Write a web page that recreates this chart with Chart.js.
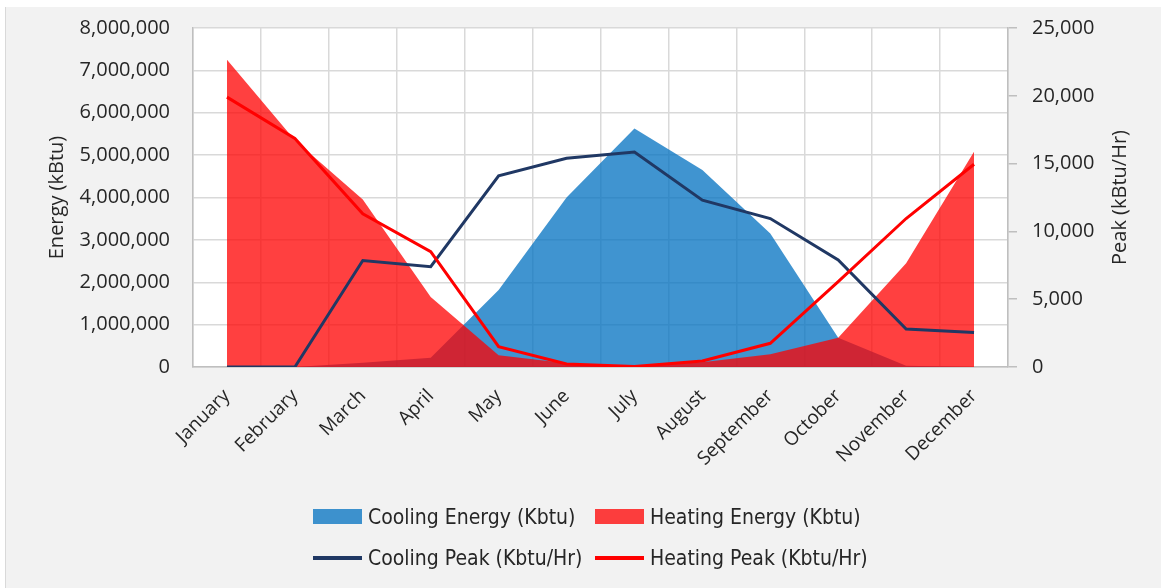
<!DOCTYPE html>
<html>
<head>
<meta charset="utf-8">
<script src="https://cdn.jsdelivr.net/npm/chart.js@4.4.0/dist/chart.umd.min.js"></script>
<style>
    html, body { margin: 0; padding: 0; background: #ffffff; }
    #wrap {
        position: absolute; left: 5px; top: 7px; width: 1156px; height: 581px;
        background: #f2f2f2; border-left: 1px solid #d9d9d9;
    }
    #chart { position: absolute; left: -6px; top: -7px; }
    .leg { position: absolute; font-family: "Liberation Sans Narrow", "DejaVu Sans Condensed", sans-serif;
        font-size: 21px; color: #262626; white-space: nowrap; line-height: 24px; }
    .sw { position: absolute; }
</style>
</head>
<body>
<div id="wrap">
    <canvas id="chart" width="1161" height="588"></canvas>
</div>
<div id="legend"></div>
<script>
const months = ["January", "February", "March", "April", "May", "June", "July",
    "August", "September", "October", "November", "December"];

// energy (kBtu), left axis
const coolingEnergy = [0, 0, 100000, 220000, 1820000, 4000000, 5630000, 4650000, 3150000, 690000, 30000, 0];
const heatingEnergy = [7250000, 5350000, 3950000, 1650000, 280000, 90000, 20000, 110000, 300000, 690000, 2450000, 5080000];

// peak (kBtu/Hr), right axis
const coolingPeak = [0, 0, 7850, 7400, 14100, 15400, 15850, 12300, 10950, 7900, 2800, 2550];
const heatingPeak = [19900, 16850, 11300, 8500, 1500, 220, 30, 450, 1750, 6300, 10950, 14950];

const energyTicks = { min: 0, max: 8000000, step: 1000000 };
const peakTicks = { min: 0, max: 25000, step: 5000 };

const blueFill = "rgba(0,112,192,0.75)";
const redFill = "rgba(255,0,0,0.75)";
const navy = "#203864";
const red = "#ff0000";
const textColor = "#262626";
const axisFont = { family: "'Open Sans', sans-serif", size: 20 };

// white plot area on the grey background
const plotBg = {
    id: "plotBg",
    beforeDraw(chart) {
        const a = chart.chartArea;
        const ctx = chart.ctx;
        ctx.save();
        ctx.fillStyle = "#ffffff";
        ctx.fillRect(a.left, a.top, a.right - a.left, a.bottom - a.top);
        ctx.restore();
    }
};

// right axis title reads bottom-to-top, like the left one
const rightTitle = {
    id: "rightTitle",
    afterDraw(chart) {
        const a = chart.chartArea;
        const ctx = chart.ctx;
        ctx.save();
        ctx.translate(1120, (a.top + a.bottom) / 2);
        ctx.rotate(-Math.PI / 2);
        ctx.fillStyle = textColor;
        ctx.font = "20px 'Open Sans', sans-serif";
        ctx.textAlign = "center";
        ctx.textBaseline = "middle";
        ctx.fillText("Peak (kBtu/Hr)", 0, 0);
        ctx.restore();
    }
};

const fmt = (v) => Number(v).toLocaleString("en-US");

// fixed axis sizes so the plot sits where it does in the original
function fixVertical(width) {
    return (scale) => {
        scale.width = width;
        scale.paddingTop = 0;
        scale.paddingBottom = 0;
    };
}

new Chart(document.getElementById("chart"), {
    type: "line",
    data: {
        labels: months,
        datasets: [
            { label: "Cooling Energy (Kbtu)", data: coolingEnergy, yAxisID: "y", order: 3,
              backgroundColor: blueFill, borderWidth: 0, fill: "origin", pointRadius: 0 },
            { label: "Heating Energy (Kbtu)", data: heatingEnergy, yAxisID: "y", order: 2,
              backgroundColor: redFill, borderWidth: 0, fill: "origin", pointRadius: 0 },
            { label: "Cooling Peak (Kbtu/Hr)", data: coolingPeak, yAxisID: "y1", order: 1,
              borderColor: navy, borderWidth: 3, fill: false, pointRadius: 0 },
            { label: "Heating Peak (Kbtu/Hr)", data: heatingPeak, yAxisID: "y1", order: 0,
              borderColor: red, borderWidth: 3, fill: false, pointRadius: 0 }
        ]
    },
    options: {
        responsive: false,
        animation: false,
        devicePixelRatio: 1,
        layout: { padding: { top: 28, bottom: 121, left: 0, right: 0 } },
        plugins: { legend: { display: false }, tooltip: { enabled: false } },
        scales: {
            x: {
                offset: true,
                grid: { offset: true, color: "#d9d9d9", lineWidth: 1.5, drawTicks: false },
                border: { color: "#bfbfbf", width: 1.5 },
                ticks: { color: textColor, font: { family: "'Open Sans', sans-serif", size: 19 },
                         minRotation: 45, maxRotation: 45, padding: 18, autoSkip: false },
                afterFit(scale) { scale.height = 100; }
            },
            y: {
                position: "left",
                min: energyTicks.min, max: energyTicks.max,
                grid: { color: "#d9d9d9", lineWidth: 1.5, drawTicks: false },
                border: { color: "#bfbfbf", width: 1.5 },
                ticks: { stepSize: energyTicks.step, color: textColor, font: axisFont, padding: 23,
                         callback: fmt },
                title: { display: true, text: "Energy (kBtu)", color: textColor, font: axisFont,
                         padding: { top: 45, bottom: 0 } },
                afterFit: fixVertical(193)
            },
            y1: {
                position: "right",
                min: peakTicks.min, max: peakTicks.max,
                grid: { drawOnChartArea: false, color: "#bfbfbf", lineWidth: 1.5, tickLength: 9 },
                border: { color: "#bfbfbf", width: 1.5 },
                ticks: { stepSize: peakTicks.step, color: textColor, font: axisFont, padding: 15,
                         callback: fmt },
                afterFit: fixVertical(1161 - 1008)
            }
        }
    },
    plugins: [plotBg, rightTitle]
});

// legend, two rows like the original
const legendItems = [
    { text: "Cooling Energy (Kbtu)", kind: "box", color: blueFill, x: 313, y: 517 },
    { text: "Heating Energy (Kbtu)", kind: "box", color: redFill, x: 595, y: 517 },
    { text: "Cooling Peak (Kbtu/Hr)", kind: "line", color: navy, x: 313, y: 558 },
    { text: "Heating Peak (Kbtu/Hr)", kind: "line", color: red, x: 595, y: 558 }
];
const legend = document.getElementById("legend");
legendItems.forEach((it) => {
    const sw = document.createElement("div");
    sw.className = "sw";
    sw.style.left = it.x + "px";
    sw.style.width = "49px";
    sw.style.background = it.color;
    if (it.kind === "box") {
        sw.style.top = (it.y - 8) + "px";
        sw.style.height = "15px";
    } else {
        sw.style.top = (it.y - 2) + "px";
        sw.style.height = "4px";
    }
    legend.appendChild(sw);
    const t = document.createElement("div");
    t.className = "leg";
    t.style.left = (it.x + 55) + "px";
    t.style.top = (it.y - 12) + "px";
    t.textContent = it.text;
    legend.appendChild(t);
});
</script>
</body>
</html>
